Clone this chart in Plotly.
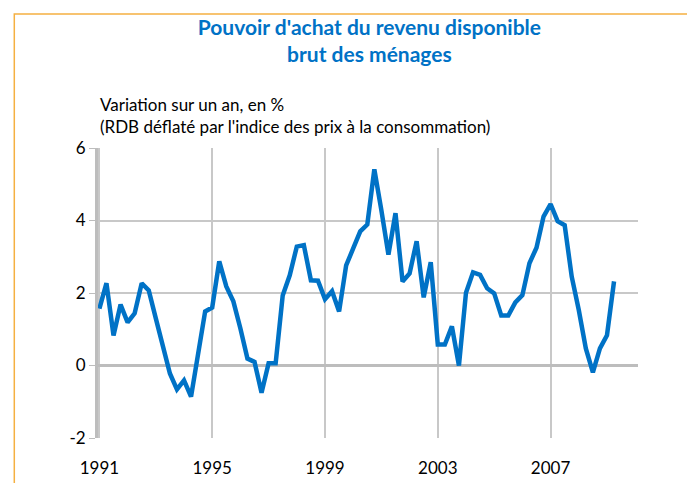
import plotly.graph_objects as go

START_YEAR = 1991
VALUES = [
    1.57, 2.27, 0.83, 1.68, 1.19, 1.44, 2.27, 2.07,
    1.3, 0.55, -0.22, -0.66, -0.41, -0.86, 0.28, 1.49,
    1.6, 2.87, 2.18, 1.77, 1.02, 0.19, 0.1, -0.75,
    0.06, 0.06, 1.93, 2.49, 3.28, 3.32, 2.35, 2.34,
    1.83, 2.05, 1.49, 2.76, 3.23, 3.7, 3.89, 5.41,
    4.28, 3.06, 4.2, 2.32, 2.54, 3.43, 1.88, 2.85,
    0.58, 0.58, 1.08, 0.0, 2.01, 2.57, 2.5, 2.13,
    1.99, 1.38, 1.38, 1.74, 1.94, 2.82, 3.25, 4.11,
    4.45, 3.98, 3.87, 2.45, 1.53, 0.47, -0.19, 0.47,
    0.83, 2.32,
]
X_TICKS = [1991, 1995, 1999, 2003, 2007]
Y_TICKS = [-2, 0, 2, 4, 6]

x = [START_YEAR + i / 4 for i in range(len(VALUES))]
BLUE = "#0072C6"
FONT = "Lato, 'Open Sans', sans-serif"

fig = go.Figure(
    go.Scatter(x=x, y=VALUES, mode="lines", line=dict(color=BLUE, width=4.5), hoverinfo="skip")
)

fig.update_layout(
    width=695,
    height=483,
    margin=dict(l=90, r=65, t=140, b=53, autoexpand=False),
    paper_bgcolor="white",
    plot_bgcolor="white",
    showlegend=False,
    font=dict(family=FONT, size=17, color="black"),
    title=dict(
        text="<b>Pouvoir d'achat du revenu disponible<br>brut des ménages</b>",
        x=0.52, xanchor="center", y=0.945, yanchor="top",
        font=dict(size=21, color=BLUE, family=FONT),
    ),
    shapes=[
        dict(type="rect", xref="paper", yref="paper", x0=-0.155, x1=1.105, y0=-0.165, y1=1.462,
             line=dict(color="#F5B041", width=1.5)),
    ],
    annotations=[
        dict(text="Variation sur un an, en %<br>(RDB déflaté par l'indice des prix à la consommation)",
             xref="paper", yref="paper", x=0.0, y=1.03, xanchor="left", yanchor="bottom",
             align="left", showarrow=False, font=dict(size=17, family=FONT)),
    ],
)

fig.update_xaxes(
    range=[START_YEAR - 0.05, 2010.1],
    tickvals=X_TICKS, ticktext=[str(t) for t in X_TICKS],
    showgrid=True, gridcolor="#C8C8C8", gridwidth=1.5,
    zeroline=False, showline=False, ticks="", ticklabelstandoff=18,
    automargin=False,
)
fig.update_yaxes(
    range=[-2, 6], tickvals=Y_TICKS, ticktext=[str(t) for t in Y_TICKS],
    showgrid=True, gridcolor="#C8C8C8", gridwidth=1.5,
    zeroline=True, zerolinecolor="#BDBDBD", zerolinewidth=3,
    showline=True, linecolor="#BDBDBD", linewidth=3,
    ticks="outside", ticklen=6, tickcolor="#BDBDBD",
    automargin=False,
)

fig.write_html("out.html")
